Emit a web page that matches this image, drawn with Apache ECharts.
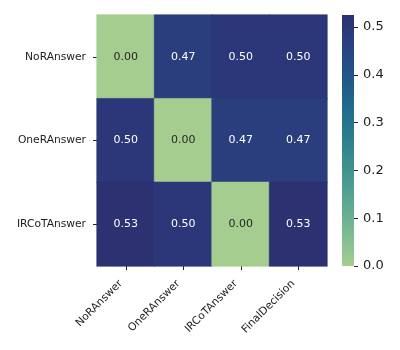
<!DOCTYPE html>
<html>
<head>
<meta charset="utf-8">
<script src="https://cdn.jsdelivr.net/npm/echarts@6/dist/echarts.min.js"></script>
<style>
  html, body { margin: 0; padding: 0; background: #fff; }
  #chart { width: 400px; height: 350px; }
</style>
</head>
<body>
<div id="chart"></div>
<script>
// categories
var colNames = ['NoRAnswer', 'OneRAnswer', 'IRCoTAnswer', 'FinalDecision'];
var rowNames = ['NoRAnswer', 'OneRAnswer', 'IRCoTAnswer'];
// one array per row
var rowNoR = [0.0, 0.475, 0.5, 0.5];
var rowOneR = [0.5, 0.0, 0.475, 0.475];
var rowIRCoT = [0.525, 0.5, 0.0, 0.525];
var colorbarTicks = [0.0, 0.1, 0.2, 0.3, 0.4, 0.5];

// seaborn "crest" approx
var crest = ['#a5cd90', '#7eba92', '#5ea792', '#42948f', '#2d808e', '#226b8c', '#22568a', '#294281', '#2c3172'];
var vmin = 0, vmax = 0.525;

// pick color from crest for a value
function crestColor(v) {
    var t = Math.max(0, Math.min(1, (v - vmin) / (vmax - vmin))) * (crest.length - 1);
    var i = Math.min(crest.length - 2, Math.floor(t));
    var f = t - i;
    var a = echarts.color.parse(crest[i]), b = echarts.color.parse(crest[i + 1]);
    var c = [0, 1, 2].map(function (k) { return Math.round(a[k] + (b[k] - a[k]) * f); });
    return 'rgb(' + c.join(',') + ')';
}

var rows = [rowNoR, rowOneR, rowIRCoT];
var data = [];
rows.forEach(function (r, ri) {
    r.forEach(function (v, ci) {
        var col = crestColor(v);
        data.push({
            value: [ci, ri, v],
            itemStyle: { color: col, borderColor: col, borderWidth: 0.6 },
            label: { color: v < vmax / 2 ? '#262626' : '#ffffff' }
        });
    });
});

// colorbar gradient, top = vmax
var gradStops = crest.map(function (c, i) {
    return { offset: 1 - i / (crest.length - 1), color: c };
}).reverse();

var chart = echarts.init(document.getElementById('chart'));
var option = {
    animation: false,
    textStyle: { fontFamily: 'DejaVu Sans' },
    grid: [
        { left: 97, top: 15, width: 230, height: 251 },
        { left: 342, top: 15, width: 12, height: 251 }
    ],
    xAxis: [{
        type: 'category',
        gridIndex: 0,
        data: colNames,
        axisLine: { show: false },
        axisTick: { show: true, alignWithLabel: true, length: 4, lineStyle: { color: '#222' } },
        axisLabel: { rotate: 45, fontSize: 10.7, color: '#222', margin: 11, padding: [0, 7, 0, 0], interval: 0 },
        splitArea: { show: false }
    }, {
        type: 'category',
        gridIndex: 1,
        data: ['cb'],
        show: false
    }],
    yAxis: [{
        type: 'category',
        gridIndex: 0,
        data: rowNames,
        inverse: true,
        axisLine: { show: false },
        axisTick: { show: true, alignWithLabel: true, length: 4, lineStyle: { color: '#222' } },
        axisLabel: { fontSize: 10.7, color: '#222', margin: 11 },
        splitArea: { show: false }
    }, {
        type: 'value',
        gridIndex: 1,
        position: 'right',
        min: vmin,
        max: vmax,
        interval: 0.1,
        axisLine: { show: false },
        splitLine: { show: false },
        axisTick: { show: true, length: 4, lineStyle: { color: '#222' } },
        axisLabel: {
            fontSize: 13, color: '#222', margin: 9,
            showMaxLabel: false,
            formatter: function (v) { return v.toFixed(1); }
        }
    }],
    series: [{
        type: 'heatmap',
        xAxisIndex: 0,
        yAxisIndex: 0,
        data: data,
        label: {
            show: true,
            fontSize: 11,
            formatter: function (p) { return p.value[2].toFixed(2); }
        }
    }, {
        type: 'bar',
        xAxisIndex: 1,
        yAxisIndex: 1,
        data: [vmax],
        barWidth: '100%',
        silent: true,
        itemStyle: {
            color: new echarts.graphic.LinearGradient(0, 0, 0, 1, gradStops)
        }
    }]
};
chart.setOption(option);
</script>
</body>
</html>
